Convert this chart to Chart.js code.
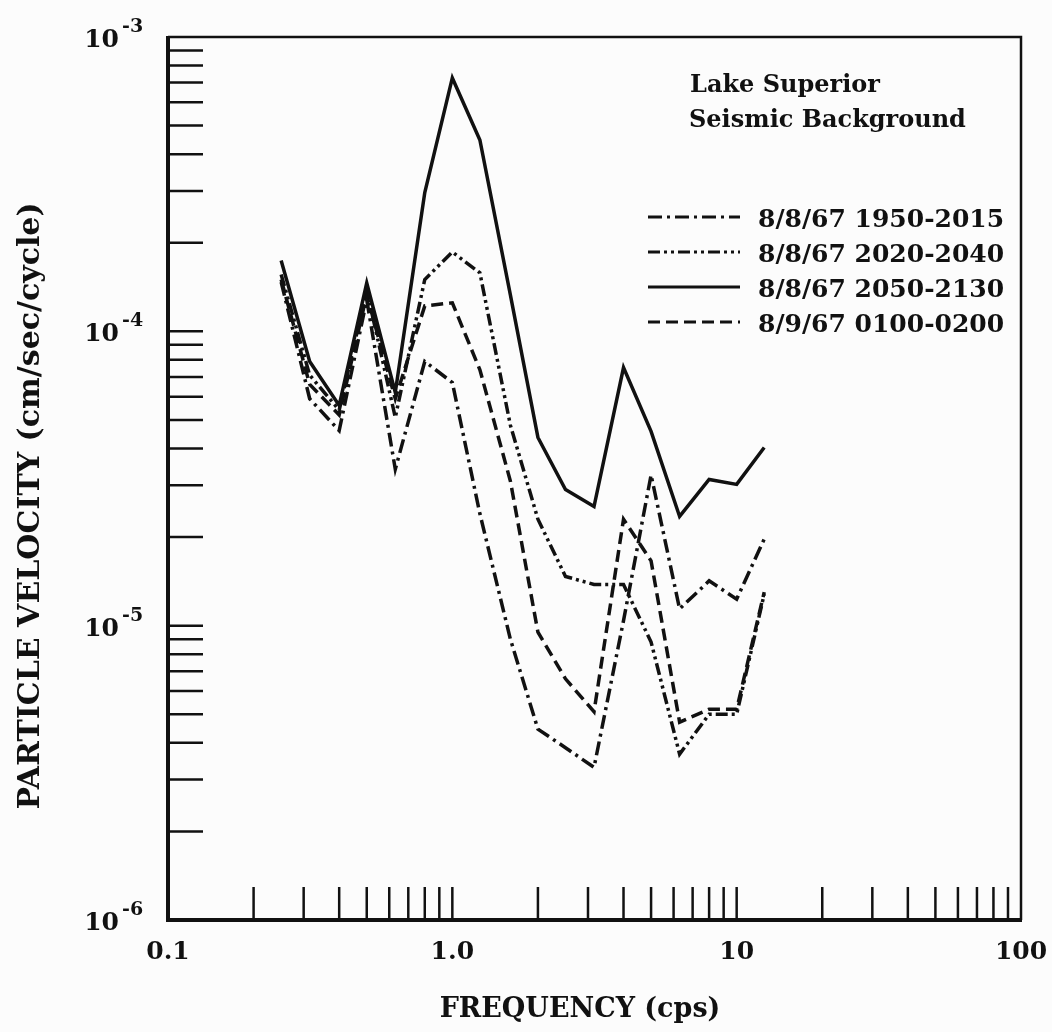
<!DOCTYPE html>
<html>
<head>
<meta charset="utf-8">
<script src="https://cdn.jsdelivr.net/npm/chart.js@4.4.1/dist/chart.umd.min.js"></script>
<style>
  html, body { margin: 0; padding: 0; background: #fcfcfc; }
  canvas { display: block; }
</style>
</head>
<body>
<canvas id="grafica" width="1052" height="1032"></canvas>
<script>
// frecuencias en tercios de octava (cps)
var frecuencias = [0.25, 0.315, 0.4, 0.5, 0.63, 0.8, 1.0, 1.25, 1.6, 2.0, 2.5, 3.15, 4.0, 5.0, 6.3, 8.0, 10, 12.5];

// velocidad de particula (cm/sec/cycle)
var serie1950 = [1.47e-4, 5.9e-5, 4.6e-5, 1.28e-4, 3.4e-5, 7.9e-5, 6.7e-5, 2.4e-5, 9.0e-6, 4.45e-6, 3.85e-6, 3.3e-6, 1.04e-5, 3.25e-5, 1.14e-5, 1.42e-5, 1.23e-5, 1.97e-5];
var serie2020 = [1.56e-4, 7.1e-5, 5.4e-5, 1.38e-4, 5.1e-5, 1.50e-4, 1.86e-4, 1.58e-4, 4.8e-5, 2.3e-5, 1.47e-5, 1.38e-5, 1.38e-5, 8.8e-6, 3.66e-6, 5.0e-6, 5.0e-6, 1.28e-5];
var serie2050 = [1.74e-4, 7.9e-5, 5.6e-5, 1.46e-4, 6.2e-5, 2.96e-4, 7.26e-4, 4.47e-4, 1.33e-4, 4.36e-5, 2.9e-5, 2.54e-5, 7.53e-5, 4.57e-5, 2.35e-5, 3.14e-5, 3.02e-5, 4.03e-5];
var serie0100 = [1.5e-4, 6.6e-5, 5.2e-5, 1.33e-4, 5.9e-5, 1.22e-4, 1.25e-4, 7.4e-5, 3.1e-5, 9.5e-6, 6.6e-6, 5.1e-6, 2.3e-5, 1.66e-5, 4.7e-6, 5.2e-6, 5.2e-6, 1.3e-5];

var etiquetas = ['8/8/67 1950-2015', '8/8/67 2020-2040', '8/8/67 2050-2130', '8/9/67 0100-0200'];
var titulo = ['Lake Superior', 'Seismic Background'];

// marcas de los ejes
var ticksX = [0.2, 0.3, 0.4, 0.5, 0.6, 0.7, 0.8, 0.9, 1, 2, 3, 4, 5, 6, 7, 8, 9, 10, 20, 30, 40, 50, 60, 70, 80, 90];
var ticksY = [2e-6, 3e-6, 4e-6, 5e-6, 6e-6, 7e-6, 8e-6, 9e-6, 1e-5, 2e-5, 3e-5, 4e-5, 5e-5, 6e-5, 7e-5, 8e-5, 9e-5, 1e-4, 2e-4, 3e-4, 4e-4, 5e-4, 6e-4, 7e-4, 8e-4, 9e-4];
var etiquetasX = [0.1, 1, 10, 100];
var textosX = ['0.1', '1.0', '10', '100'];
var etiquetasY = [1e-3, 1e-4, 1e-5, 1e-6];
var exponentesY = ['-3', '-4', '-5', '-6'];

var FUENTE = '"DejaVu Serif", "Liberation Serif", serif';
var TINTA = '#111';

function puntos(valores) {
  return frecuencias.map(function(f, i) { return {x: f, y: valores[i]}; });
}

function serie(nombre, valores, guiones) {
  return {
    label: nombre,
    data: puntos(valores),
    borderColor: TINTA,
    borderWidth: 3.5,
    borderDash: guiones,
    pointRadius: 0,
    tension: 0,
    fill: false
  };
}

var marco = {
  id: 'marco',
  beforeDraw: function(chart) {
    var ctx = chart.ctx;
    ctx.save();
    ctx.fillStyle = '#fcfcfc';
    ctx.fillRect(0, 0, chart.width, chart.height);
    ctx.restore();
  },
  afterDraw: function(chart) {
    var ctx = chart.ctx, a = chart.chartArea;
    var ex = chart.scales.x, ey = chart.scales.y;
    ctx.save();
    ctx.strokeStyle = TINTA;
    ctx.fillStyle = TINTA;
    ctx.lineCap = 'butt';

    // caja
    ctx.lineWidth = 2.5;
    ctx.beginPath();
    ctx.moveTo(a.left, a.top); ctx.lineTo(a.right, a.top); ctx.lineTo(a.right, a.bottom);
    ctx.stroke();
    ctx.lineWidth = 4;
    ctx.beginPath();
    ctx.moveTo(a.left, a.top - 1); ctx.lineTo(a.left, a.bottom); ctx.lineTo(a.right + 1, a.bottom);
    ctx.stroke();

    // marcas hacia dentro
    ctx.lineWidth = 2.5;
    ex.ticks.forEach(function(t) {
      var px = ex.getPixelForValue(t.value);
      ctx.beginPath(); ctx.moveTo(px, a.bottom); ctx.lineTo(px, a.bottom - 33); ctx.stroke();
    });
    ey.ticks.forEach(function(t) {
      var py = ey.getPixelForValue(t.value);
      ctx.beginPath(); ctx.moveTo(a.left, py); ctx.lineTo(a.left + 35, py); ctx.stroke();
    });

    // etiquetas eje x
    ctx.font = 'bold 25px ' + FUENTE;
    ctx.textAlign = 'center';
    ctx.textBaseline = 'alphabetic';
    etiquetasX.forEach(function(v, i) {
      ctx.fillText(textosX[i], ex.getPixelForValue(v), 959);
    });

    // etiquetas eje y: 10 con exponente
    etiquetasY.forEach(function(v, i) {
      var py = ey.getPixelForValue(v);
      ctx.font = 'bold 25px ' + FUENTE;
      ctx.textAlign = 'right';
      ctx.fillText('10', 119, py + 10);
      ctx.font = 'bold 19px ' + FUENTE;
      ctx.textAlign = 'left';
      ctx.fillText(exponentesY[i], 122, py - 5);
    });

    // titulos de ejes
    ctx.font = 'bold 27px ' + FUENTE;
    ctx.textAlign = 'center';
    ctx.fillText('FREQUENCY (cps)', 580, 1017);
    ctx.save();
    ctx.font = 'bold 30px ' + FUENTE;
    ctx.translate(39, 506);
    ctx.rotate(-Math.PI / 2);
    ctx.fillText('PARTICLE VELOCITY (cm/sec/cycle)', 0, 0);
    ctx.restore();

    // titulo interior
    ctx.font = 'bold 24px ' + FUENTE;
    ctx.textAlign = 'left';
    ctx.fillText(titulo[0], 690, 92);
    ctx.fillText(titulo[1], 689, 127);

    // leyenda
    chart.data.datasets.forEach(function(ds, i) {
      var base = 227 + i * 35;
      ctx.lineWidth = 3;
      ctx.setLineDash(ds.borderDash || []);
      ctx.beginPath(); ctx.moveTo(648, base - 10); ctx.lineTo(740, base - 10); ctx.stroke();
      ctx.setLineDash([]);
      ctx.font = 'bold 25px ' + FUENTE;
      ctx.fillText(ds.label, 758, base);
    });
    ctx.restore();
  }
};

new Chart(document.getElementById('grafica').getContext('2d'), {
  type: 'line',
  data: {
    datasets: [
      serie(etiquetas[0], serie1950, [14, 5, 3, 5]),
      serie(etiquetas[1], serie2020, [12, 4, 3, 4, 3, 4]),
      serie(etiquetas[2], serie2050, []),
      serie(etiquetas[3], serie0100, [12, 6])
    ]
  },
  options: {
    responsive: false,
    animation: false,
    devicePixelRatio: 1,
    layout: { padding: { left: 168, top: 37, right: 31, bottom: 112 } },
    plugins: { legend: { display: false }, tooltip: { enabled: false } },
    scales: {
      x: {
        type: 'logarithmic', min: 0.1, max: 100, display: false,
        afterBuildTicks: function(scale) { scale.ticks = ticksX.map(function(v) { return {value: v}; }); }
      },
      y: {
        type: 'logarithmic', min: 1e-6, max: 1e-3, display: false,
        afterBuildTicks: function(scale) { scale.ticks = ticksY.map(function(v) { return {value: v}; }); }
      }
    }
  },
  plugins: [marco]
});
</script>
</body>
</html>
